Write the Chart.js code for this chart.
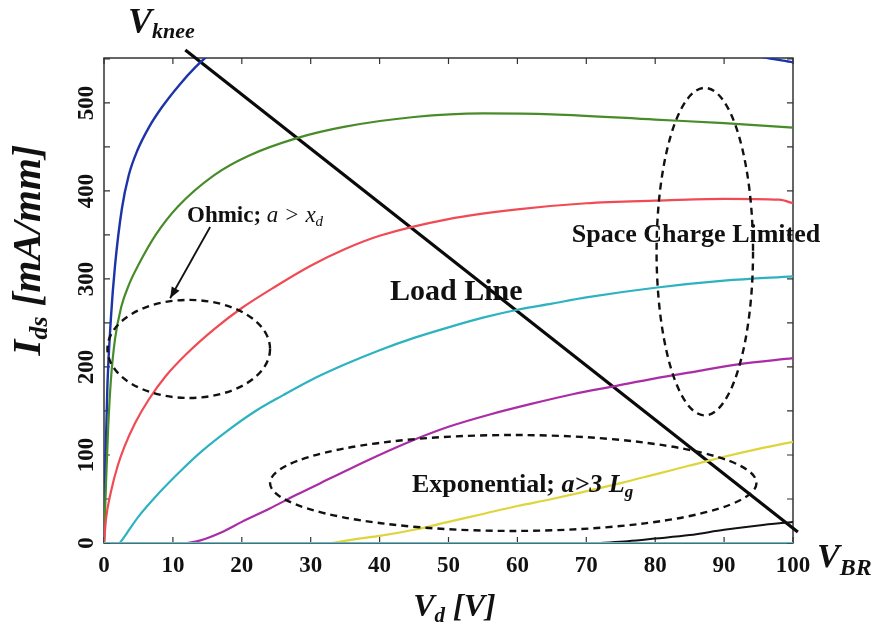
<!DOCTYPE html>
<html>
<head>
<meta charset="utf-8">
<script src="https://cdn.jsdelivr.net/npm/chart.js@4.4.1/dist/chart.umd.min.js"></script>
<style>
  html, body { margin: 0; padding: 0; background: #ffffff; }
  #wrap { width: 875px; height: 629px; }
</style>
</head>
<body>
<div id="wrap"><canvas id="c" width="875" height="629"></canvas></div>
<script>
// Drain voltage axis ticks (V) and drain current axis ticks (mA/mm)
const vdTicks  = [0, 10, 20, 30, 40, 50, 60, 70, 80, 90, 100];
const idsTicks = [0, 50, 100, 150, 200, 250, 300, 350, 400, 450, 500, 550];

// I-V family: drain voltage (V) and drain current (mA/mm) for each gate bias
const blueVd   = [0, 0.2, 0.5, 1.0, 1.6, 2.6, 3.6, 4.9, 6.5, 8.4, 11, 13.2, 15, 20, 30, 45, 60, 75, 88, 95, 100];
const blueIds  = [0, 90, 180, 255, 315, 380, 418, 447, 472, 495, 521, 540, 553, 578, 603, 614, 610, 592, 566, 553, 546];

const greenVd  = [0, 0.3, 0.6, 1.0, 1.6, 2.5, 3.7, 5, 7.5, 10.7, 16, 21, 28, 35, 45, 55, 65, 80, 90, 100];
const greenIds = [0, 70, 130, 185, 232, 268, 295, 316, 350, 382, 418, 440, 460, 473, 484, 488, 487, 481, 477, 472];

const redVd    = [0, 0.3, 1, 2, 3, 4.5, 6.5, 9, 12, 16, 20, 25, 30, 35, 40, 50, 60, 70, 80, 90, 98, 100];
const redIds   = [0, 28, 58, 88, 110, 136, 163, 190, 215, 243, 267, 292, 315, 334, 349, 368, 379, 386, 389, 391, 390, 386];

const cyanVd   = [2.3, 3.3, 5, 8, 11, 14, 18, 22, 26, 30, 35, 40, 45, 50, 55, 60, 65, 70, 80, 90, 100];
const cyanIds  = [0, 11, 30, 57, 81, 103, 128, 150, 168, 185, 203, 219, 233, 245, 256, 265, 272, 279, 290, 298, 303];

const purpleVd  = [12, 14, 17, 20, 24, 28, 33, 38, 44, 50, 56, 62, 68, 74, 80, 86, 92, 100];
const purpleIds = [0, 3, 12, 24, 39, 55, 74, 93, 114, 132, 146, 158, 169, 178, 187, 195, 203, 210];

const yellowVd  = [33, 37, 40, 45, 50, 55, 60, 65, 69, 75, 80, 85, 90, 95, 100];
const yellowIds = [0, 5, 8, 15, 24, 33, 42, 50, 57, 68, 78, 88, 98, 107, 115];

const blackVd   = [72, 76, 80, 85, 90, 95, 100];
const blackIds  = [0, 2, 5, 9, 15, 20, 24];

const offVd     = [0, 100];
const offIds    = [0, 0];

// Load line between the knee point and breakdown
const loadVd    = [11.8, 100.7];
const loadIds   = [560, 12.5];

// Operating regions (centre and half-axes in V and mA/mm)
const regions = [
  { name: 'ohmic',       cx: 12.3, cy: 220.5, rx: 11.8, ry: 55.7 },
  { name: 'spaceCharge', cx: 87.2, cy: 331,   rx: 7.0,  ry: 186 },
  { name: 'exponential', cx: 59.4, cy: 68.2,  rx: 35.3, ry: 54.5 }
];

const SERIF = '"Liberation Serif", "DejaVu Serif", serif';

function pts(xs, ys) { return xs.map((x, i) => ({ x: x, y: ys[i] })); }

function curve(xs, ys, color, width) {
  return {
    data: pts(xs, ys),
    borderColor: color,
    borderWidth: width || 2,
    pointRadius: 0,
    fill: false,
    cubicInterpolationMode: 'monotone'
  };
}

// Draw a run of text pieces with their own fonts and vertical offsets
function rich(ctx, x, y, parts, centered) {
  let total = 0;
  for (const p of parts) { ctx.font = p[1]; total += ctx.measureText(p[0]).width; }
  let cx = centered ? x - total / 2 : x;
  for (const p of parts) {
    ctx.font = p[1];
    ctx.fillText(p[0], cx, y + (p[2] || 0));
    cx += ctx.measureText(p[0]).width;
  }
}

// Plot frame with inward ticks on all four sides
const framePlugin = {
  id: 'frame',
  beforeDatasetsDraw(chart) {
    const { ctx, chartArea: a, scales: { x, y } } = chart;
    ctx.save();
    ctx.strokeStyle = '#333';
    ctx.lineWidth = 1.5;
    ctx.strokeRect(a.left, a.top, a.right - a.left, a.bottom - a.top);
    ctx.lineWidth = 1.2;
    ctx.beginPath();
    for (const v of vdTicks) {
      const px = x.getPixelForValue(v);
      ctx.moveTo(px, a.bottom); ctx.lineTo(px, a.bottom - 6);
      ctx.moveTo(px, a.top);    ctx.lineTo(px, a.top + 6);
    }
    for (const v of idsTicks) {
      const py = y.getPixelForValue(v);
      ctx.moveTo(a.left, py);  ctx.lineTo(a.left + 6, py);
      ctx.moveTo(a.right, py); ctx.lineTo(a.right - 6, py);
    }
    ctx.stroke();
    ctx.restore();
  }
};

// Region ellipses, arrow and text labels
const notesPlugin = {
  id: 'notes',
  afterDatasetsDraw(chart) {
    const { ctx, chartArea: a, scales: { x, y } } = chart;
    const sx = v => x.getPixelForValue(v);
    const sy = v => y.getPixelForValue(v);
    const kx = x.getPixelForValue(1) - x.getPixelForValue(0);
    const ky = y.getPixelForValue(0) - y.getPixelForValue(1);
    ctx.save();

    ctx.strokeStyle = '#111';
    ctx.lineWidth = 2.4;
    ctx.setLineDash([7, 5]);
    for (const r of regions) {
      ctx.beginPath();
      ctx.ellipse(sx(r.cx), sy(r.cy), r.rx * kx, r.ry * ky, 0, 0, Math.PI * 2);
      ctx.stroke();
    }
    ctx.setLineDash([]);

    // arrow from the Ohmic label into its region
    const x0 = sx(15.4), y0 = sy(359), x1 = sx(9.6), y1 = sy(278);
    ctx.lineWidth = 1.8;
    ctx.beginPath(); ctx.moveTo(x0, y0); ctx.lineTo(x1, y1); ctx.stroke();
    const ang = Math.atan2(y1 - y0, x1 - x0);
    ctx.fillStyle = '#111';
    ctx.beginPath();
    ctx.moveTo(x1, y1);
    ctx.lineTo(x1 - 12 * Math.cos(ang - 0.38), y1 - 12 * Math.sin(ang - 0.38));
    ctx.lineTo(x1 - 12 * Math.cos(ang + 0.38), y1 - 12 * Math.sin(ang + 0.38));
    ctx.closePath(); ctx.fill();

    ctx.fillStyle = '#111';
    ctx.textAlign = 'left';
    ctx.textBaseline = 'alphabetic';

    rich(ctx, sx(12.05), sy(364.8), [
      ['Ohmic;', 'bold 23px ' + SERIF],
      [' a > x', 'italic 23px ' + SERIF],
      ['d', 'italic 15px ' + SERIF, 4]
    ]);
    rich(ctx, sx(41.5), sy(276), [['Load Line', 'bold 30px ' + SERIF]]);
    rich(ctx, sx(67.9), sy(342), [['Space Charge Limited', 'bold 26px ' + SERIF]]);
    rich(ctx, sx(44.7), sy(58), [
      ['Exponential; ', 'bold 26px ' + SERIF],
      ['a>3 L', 'bold italic 26px ' + SERIF],
      ['g', 'bold italic 17px ' + SERIF, 5]
    ]);

    // labels around the frame
    rich(ctx, a.left + 24, a.top - 25, [
      ['V', 'bold italic 36px ' + SERIF],
      ['knee', 'bold italic 22px ' + SERIF, 5]
    ]);
    rich(ctx, a.right + 24, a.bottom + 24, [
      ['V', 'bold italic 34px ' + SERIF],
      ['BR', 'bold italic 24px ' + SERIF, 8]
    ]);
    rich(ctx, (a.left + a.right) / 2 + 6, a.bottom + 73, [
      ['V', 'bold italic 32px ' + SERIF],
      ['d', 'bold italic 21px ' + SERIF, 6],
      [' [V]', 'bold italic 32px ' + SERIF]
    ], true);

    ctx.translate(a.left - 64, a.top + 192);
    ctx.rotate(-Math.PI / 2);
    rich(ctx, 0, 0, [
      ['I', 'bold italic 41px ' + SERIF],
      ['ds', 'bold italic 26px ' + SERIF, 7],
      [' [mA/mm]', 'bold italic 41px ' + SERIF]
    ], true);

    ctx.restore();
  }
};

const tickFont = { family: SERIF, size: 23, weight: 'bold' };

new Chart(document.getElementById('c'), {
  type: 'line',
  data: {
    datasets: [
      curve(offVd, offIds, 'rgb(80,195,215)', 2.2),
      curve(blackVd, blackIds, '#111', 2),
      curve(yellowVd, yellowIds, 'rgb(222,212,60)', 2.2),
      curve(purpleVd, purpleIds, 'rgb(170,45,165)', 2.2),
      curve(cyanVd, cyanIds, 'rgb(45,178,192)', 2.2),
      curve(redVd, redIds, 'rgb(240,75,85)', 2.2),
      curve(greenVd, greenIds, 'rgb(72,140,42)', 2.2),
      curve(blueVd, blueIds, 'rgb(28,52,168)', 2.4),
      Object.assign(curve(loadVd, loadIds, '#0a0a0a', 3.2), { clip: false, cubicInterpolationMode: 'default', tension: 0 })
    ]
  },
  options: {
    responsive: false,
    animation: false,
    events: [],
    layout: { padding: { top: 58, right: 82, left: 0, bottom: 0 } },
    plugins: { legend: { display: false }, tooltip: { enabled: false } },
    scales: {
      x: {
        type: 'linear',
        min: 0, max: 100,
        afterBuildTicks: s => { s.ticks = vdTicks.map(v => ({ value: v })); },
        afterFit: s => { s.height = 86; },
        grid: { display: false, drawTicks: false },
        border: { display: false },
        ticks: { font: tickFont, color: '#111', padding: 9, maxRotation: 0, minRotation: 0 }
      },
      y: {
        type: 'linear',
        min: 0, max: 551,
        afterBuildTicks: s => { s.ticks = idsTicks.map(v => ({ value: v })); },
        afterFit: s => { s.width = 104; },
        grid: { display: false, drawTicks: false },
        border: { display: false },
        ticks: {
          font: tickFont, color: '#111', padding: 0,
          minRotation: 90, maxRotation: 90, crossAlign: 'center',
          callback: v => (v % 100 === 0 ? String(v) : '')
        }
      }
    }
  },
  plugins: [framePlugin, notesPlugin]
});
</script>
</body>
</html>
